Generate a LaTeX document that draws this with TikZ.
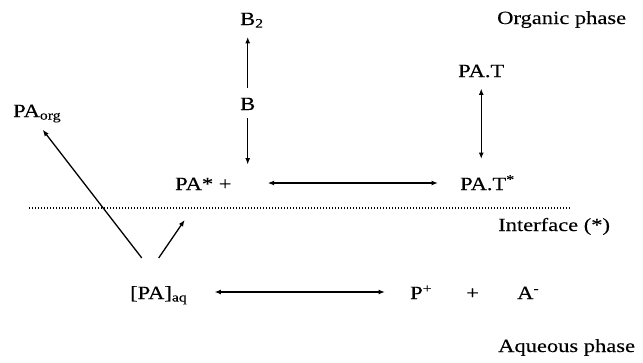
\documentclass[tikz,border=0pt]{standalone}
\usepackage{fontspec}
\setmainfont{Liberation Serif}[FakeStretch=1.21,FakeBold=0.15]
\usetikzlibrary{arrows.meta}
\begin{document}
\begin{tikzpicture}[x=1pt,y=-1pt,
  every node/.style={font=\fontsize{18.6}{22}\selectfont, inner sep=0pt, anchor=base west, text=black},
  arr/.style={line width=1.3pt, -{Latex[length=6.5pt,width=5pt]}},
  darr/.style={line width=1.3pt, {Latex[length=6.5pt,width=5pt]}-{Latex[length=6.5pt,width=5pt]}}]
\useasboundingbox (0,0) rectangle (643,362);
% labels
\node (org) at (497,24) {Organic phase};
\node (int) at (498,231) {Interface (*)};
\node (aqp) at (498,352) {Aqueous phase};
% species
\node (B2) at (240,25) {B\textsubscript{2}};
\node (B) at (240,110) {B};
\node (PAs) at (175,190) {PA* +};
\node (PATs) at (460,190) {PA.T\textsuperscript{*}};
\node (PAT) at (458,77) {PA.T};
\node (PAorg) at (13,117) {PA\textsubscript{org}};
\node (aq) at (130,299) {[PA]\textsubscript{aq}};
\node (P) at (410,299) {P\textsuperscript{+}};
\node (plus) at (466,299) {+};
\node (A) at (517,299) {A\textsuperscript{-}};
% interface
\draw[line width=1.3pt, dash pattern=on 1.2pt off 1.8pt] (29,208) -- (570,208);
% connectors
\draw[arr, shorten <=10pt, shorten >=9pt] (B.north) -- (B.north |- B2.south);
\draw[arr, shorten <=8pt, shorten >=13pt] (B.south) -- (B.south |- PAs.north);
\draw[darr, shorten <=36pt, shorten >=22pt] ([yshift=7pt]PAs.base east) -- ([yshift=7pt]PATs.base west);
\draw[darr, shorten <=11pt, shorten >=16pt] (PAT.south) -- (PAT.south |- PATs.north);
\draw[arr, shorten >=9pt] ([xshift=-17pt,yshift=28pt]aq.north) -- (PAorg.south);
\draw[arr] ([yshift=28pt]aq.north) -- ([xshift=26pt,yshift=66pt]aq.north);
\draw[darr, shorten <=27pt, shorten >=25pt] ([yshift=7pt]aq.base east) -- ([yshift=7pt]P.base west);
\end{tikzpicture}
\end{document}
